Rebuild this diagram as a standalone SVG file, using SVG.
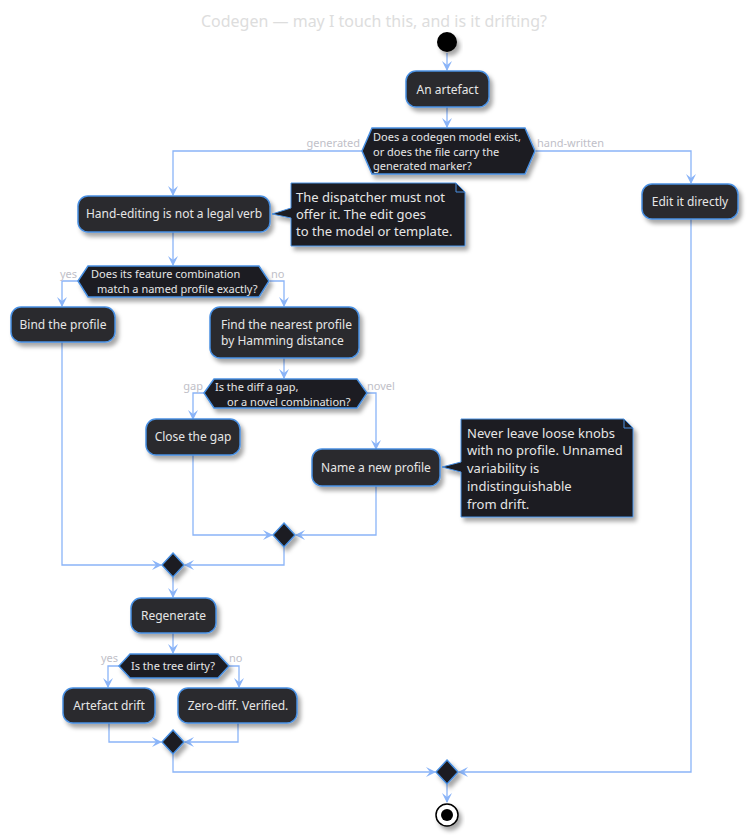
<svg xmlns="http://www.w3.org/2000/svg" width="748" height="836" viewBox="0 0 748 836">
<defs>
<filter id="sh" x="-20%" y="-20%" width="150%" height="160%">
<feDropShadow dx="3" dy="4" stdDeviation="2" flood-color="#000" flood-opacity="0.35"/>
</filter>
<marker id="ah" viewBox="0 0 10 10" refX="9" refY="5" markerWidth="10" markerHeight="10" markerUnits="userSpaceOnUse" orient="auto">
<path d="M0,0 L10,5 L0,10 L4,5 Z" fill="#8ab4f8"/>
</marker>
<style>
text{font-family:"Noto Sans","Open Sans","DejaVu Sans",sans-serif;}
.box{fill:#29292e;stroke:#4a90e2;stroke-width:1.5;filter:url(#sh);}
.dec{fill:#1c1c21;stroke:#4a90e2;stroke-width:1.5;filter:url(#sh);}
.note{fill:#1c1c21;stroke:#4a90e2;stroke-width:1;filter:url(#sh);}
.t{fill:#e6e6e6;font-size:12px;}
.tc{fill:#e6e6e6;font-size:12px;text-anchor:middle;}
.td{fill:#e6e6e6;font-size:11px;}
.tn{fill:#e6e6e6;font-size:13px;}
.lbl{fill:#c0c0c8;font-size:11px;}
.c{fill:none;stroke:#8ab4f8;stroke-width:1.3;}
.title{fill:#dddddd;font-size:16px;text-anchor:middle;}
</style>
</defs>
<rect width="748" height="836" fill="#ffffff"/>
<text class="title" x="374" y="27">Codegen — may I touch this, and is it drifting?</text>

<g id="connectors">
<path class="c" d="M447,53 V70" marker-end="url(#ah)"/>
<path class="c" d="M447,107 V127" marker-end="url(#ah)"/>
<path class="c" d="M362,151 H173 V195" marker-end="url(#ah)"/>
<path class="c" d="M536,151 H691 V183" marker-end="url(#ah)"/>
<path class="c" d="M173,232 V265" marker-end="url(#ah)"/>
<path class="c" d="M78,281 H62 V306" marker-end="url(#ah)"/>
<path class="c" d="M270,281 H284 V306" marker-end="url(#ah)"/>
<path class="c" d="M284,358 V378" marker-end="url(#ah)"/>
<path class="c" d="M204,393 H193 V419" marker-end="url(#ah)"/>
<path class="c" d="M367,393 H376 V449" marker-end="url(#ah)"/>
<path class="c" d="M193,455 V535 H272" marker-end="url(#ah)"/>
<path class="c" d="M376,486 V535 H296" marker-end="url(#ah)"/>
<path class="c" d="M284,547 V565 H185" marker-end="url(#ah)"/>
<path class="c" d="M62,342 V565 H161" marker-end="url(#ah)"/>
<path class="c" d="M173,577 V597" marker-end="url(#ah)"/>
<path class="c" d="M173,633 V653" marker-end="url(#ah)"/>
<path class="c" d="M119,666 H108 V687" marker-end="url(#ah)"/>
<path class="c" d="M229,666 H239 V687" marker-end="url(#ah)"/>
<path class="c" d="M109,723 V742 H161" marker-end="url(#ah)"/>
<path class="c" d="M238,723 V742 H185" marker-end="url(#ah)"/>
<path class="c" d="M173,754 V772 H435" marker-end="url(#ah)"/>
<path class="c" d="M691,219 V772 H459" marker-end="url(#ah)"/>
<path class="c" d="M447,784 V802" marker-end="url(#ah)"/>
</g>

<g id="start"><circle cx="447" cy="42" r="10" fill="#000" filter="url(#sh)"/></g>

<g id="artefact">
<rect class="box" x="406" y="71" width="83" height="36" rx="10"/>
<text class="tc" x="447.5" y="94">An artefact</text>
</g>

<g id="dec-codegen">
<polygon class="dec" points="362,151 372,128 525,128 535,151 525,174 372,174"/>
<text class="td" x="373" y="141">Does a codegen model exist,</text>
<text class="td" x="373" y="156">or does the file carry the</text>
<text class="td" x="373" y="170">generated marker?</text>
<text class="lbl" x="360" y="147" text-anchor="end">generated</text>
<text class="lbl" x="537" y="147">hand-written</text>
</g>

<g id="hand-editing">
<rect class="box" x="78" y="196" width="192" height="36" rx="10"/>
<text class="tc" x="174" y="218">Hand-editing is not a legal verb</text>
</g>

<g id="note-dispatcher">
<path class="note" d="M291,183 H456 L465,192 V246 H291 V218 L272,214 L291,208 Z"/>
<path d="M456,183 V192 H465" fill="none" stroke="#4a90e2" stroke-width="1"/>
<text class="tn" x="296" y="202">The dispatcher must not</text>
<text class="tn" x="296" y="219">offer it. The edit goes</text>
<text class="tn" x="296" y="236">to the model or template.</text>
</g>

<g id="edit-directly">
<rect class="box" x="642" y="184" width="96" height="35" rx="10"/>
<text class="tc" x="690" y="206">Edit it directly</text>
</g>

<g id="dec-profile">
<polygon class="dec" points="78,281 88,266 259,266 269,281 259,297 88,297"/>
<text class="td" x="91" y="278">Does its feature combination</text>
<text class="td" x="97" y="293">match a named profile exactly?</text>
<text class="lbl" x="77" y="278" text-anchor="end">yes</text>
<text class="lbl" x="271" y="278">no</text>
</g>

<g id="bind-profile">
<rect class="box" x="11" y="307" width="104" height="35" rx="10"/>
<text class="tc" x="63" y="329">Bind the profile</text>
</g>

<g id="nearest-profile">
<rect class="box" x="210" y="307" width="149" height="51" rx="10"/>
<text class="t" x="221" y="329">Find the nearest profile</text>
<text class="t" x="221" y="345">by Hamming distance</text>
</g>

<g id="dec-gap">
<polygon class="dec" points="204,393 214,379 357,379 367,393 357,408 214,408"/>
<text class="td" x="215" y="391">Is the diff a gap,</text>
<text class="td" x="227" y="406">or a novel combination?</text>
<text class="lbl" x="203" y="390" text-anchor="end">gap</text>
<text class="lbl" x="367" y="390">novel</text>
</g>

<g id="close-gap">
<rect class="box" x="146" y="419" width="94" height="36" rx="10"/>
<text class="tc" x="193" y="441">Close the gap</text>
</g>

<g id="new-profile">
<rect class="box" x="312" y="449" width="128" height="37" rx="10"/>
<text class="tc" x="376" y="472">Name a new profile</text>
</g>

<g id="note-knobs">
<path class="note" d="M461,419 H624 L633,428 V517 H461 V472 L442,467 L461,462 Z"/>
<path d="M624,419 V428 H633" fill="none" stroke="#4a90e2" stroke-width="1"/>
<text class="tn" x="467" y="438">Never leave loose knobs</text>
<text class="tn" x="467" y="455">with no profile. Unnamed</text>
<text class="tn" x="467" y="473">variability is</text>
<text class="tn" x="467" y="491">indistinguishable</text>
<text class="tn" x="467" y="509">from drift.</text>
</g>

<g id="merge-gap"><polygon class="dec" points="284,523 295,535 284,547 273,535"/></g>
<g id="merge-profile"><polygon class="dec" points="173,553 184,565 173,577 162,565"/></g>

<g id="regenerate">
<rect class="box" x="131" y="598" width="85" height="35" rx="10"/>
<text class="tc" x="173.5" y="620">Regenerate</text>
</g>

<g id="dec-dirty">
<polygon class="dec" points="119,666 130,654 218,654 229,666 218,678 130,678"/>
<text class="td" x="131" y="670">Is the tree dirty?</text>
<text class="lbl" x="118" y="662" text-anchor="end">yes</text>
<text class="lbl" x="229" y="662">no</text>
</g>

<g id="artefact-drift">
<rect class="box" x="63" y="688" width="92" height="35" rx="10"/>
<text class="tc" x="109" y="710">Artefact drift</text>
</g>

<g id="zero-diff">
<rect class="box" x="178" y="688" width="119" height="35" rx="10"/>
<text class="tc" x="238" y="710">Zero-diff. Verified.</text>
</g>

<g id="merge-dirty"><polygon class="dec" points="173,730 184,742 173,754 162,742"/></g>
<g id="merge-final"><polygon class="dec" points="447,760 458,772 447,784 436,772"/></g>

<g id="end">
<circle cx="447" cy="815" r="11" fill="#fff" stroke="#000" stroke-width="1.5" filter="url(#sh)"/>
<circle cx="447" cy="815" r="6" fill="#000"/>
</g>
</svg>
